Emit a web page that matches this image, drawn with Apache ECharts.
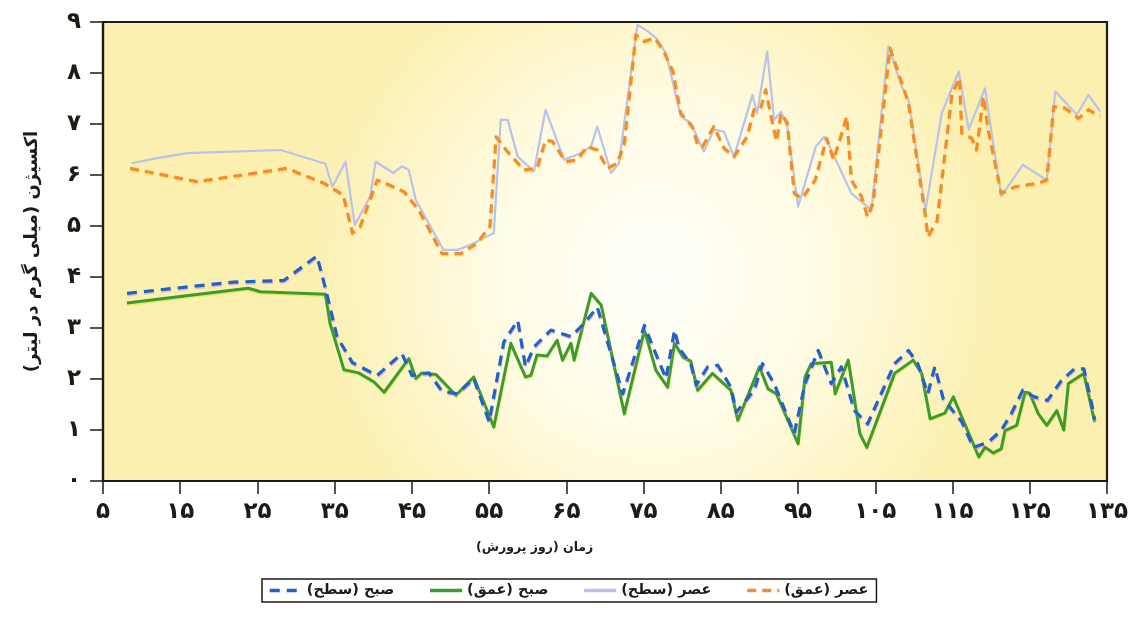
<!DOCTYPE html>
<html>
<head>
<meta charset="utf-8">
<script src="https://cdn.jsdelivr.net/npm/echarts@6/dist/echarts.min.js"></script>
<style>
  html, body { margin: 0; padding: 0; background: #ffffff; }
  #chart { width: 1141px; height: 617px; }
</style>
</head>
<body>
<div id="chart"></div>
<script>
// Dissolved oxygen (mg/L) against day of rearing, morning/afternoon, surface/depth
const xTicks = [5, 15, 25, 35, 45, 55, 65, 75, 85, 95, 105, 115, 125, 135];
const yTicks = [0, 1, 2, 3, 4, 5, 6, 7, 8, 9];

const seriesNames = ['صبح (سطح)', 'صبح (عمق)', 'عصر (سطح)', 'عصر (عمق)'];

// morning, surface
const morningSurface = [
  [8.1, 3.68], [21.9, 3.90], [28.4, 3.93], [32.7, 4.41], [33.8, 3.78], [35.3, 2.83],
  [37.3, 2.32], [40.5, 2.07], [43.7, 2.50], [45.0, 2.07], [47.2, 2.12], [48.9, 1.76],
  [50.9, 1.71], [53.0, 2.01], [55.0, 1.16], [56.9, 2.73], [58.7, 3.15], [59.7, 2.24],
  [60.8, 2.63], [63.0, 2.96], [65.6, 2.83], [67.3, 3.09], [69.0, 3.41], [72.3, 1.71],
  [75.1, 3.05], [76.4, 2.56], [77.9, 2.01], [79.0, 2.96], [79.6, 2.60], [81.1, 2.30],
  [81.8, 1.88], [83.3, 2.24], [84.6, 2.27], [86.3, 1.84], [87.0, 1.35], [89.3, 1.78],
  [90.4, 2.30], [91.9, 1.91], [94.5, 0.93], [95.9, 1.91], [97.6, 2.56], [99.3, 1.91],
  [100.6, 2.24], [102.3, 1.38], [104.0, 1.12], [107.5, 2.30], [109.3, 2.56], [110.5, 2.30],
  [111.8, 1.71], [112.7, 2.24], [113.8, 1.61], [116.2, 1.16], [117.7, 0.66], [119.6, 0.76],
  [121.3, 0.99], [122.6, 1.32], [124.1, 1.78], [125.6, 1.65], [127.3, 1.58], [129.1, 1.97],
  [130.8, 2.20], [132.0, 2.20], [133.0, 1.52], [133.4, 1.20]
];

// morning, depth
const morningDeep = [
  [8.1, 3.49], [23.8, 3.78], [25.4, 3.71], [30.5, 3.68], [33.8, 3.66], [34.4, 3.09],
  [36.2, 2.18], [38.1, 2.12], [40.1, 1.94], [41.4, 1.74], [44.6, 2.40], [45.5, 2.01],
  [46.3, 2.12], [48.1, 2.09], [50.7, 1.68], [53.0, 2.04], [55.6, 1.06], [57.8, 2.70],
  [59.7, 2.04], [60.4, 2.07], [61.2, 2.47], [62.5, 2.45], [63.8, 2.76], [64.5, 2.37],
  [65.6, 2.70], [66.0, 2.37], [68.2, 3.68], [69.5, 3.45], [72.5, 1.32], [75.1, 2.96],
  [76.6, 2.17], [78.1, 1.84], [79.0, 2.70], [80.1, 2.43], [81.1, 2.35], [82.0, 1.78],
  [83.9, 2.11], [86.3, 1.78], [87.2, 1.19], [90.0, 2.24], [91.1, 1.81], [92.2, 1.71],
  [95.0, 0.73], [95.9, 2.04], [96.7, 2.30], [99.3, 2.33], [99.8, 1.71], [101.5, 2.37],
  [103.0, 0.93], [103.9, 0.66], [107.5, 2.11], [109.9, 2.37], [111.0, 2.11], [112.1, 1.22],
  [114.0, 1.33], [115.1, 1.65], [118.4, 0.47], [119.2, 0.66], [120.3, 0.55], [121.3, 0.63],
  [121.8, 0.99], [123.3, 1.09], [124.4, 1.74], [125.0, 1.72], [126.1, 1.32], [127.2, 1.09],
  [128.5, 1.38], [129.4, 1.00], [130.0, 1.91], [132.0, 2.11], [133.4, 1.16]
];

// afternoon, surface
const afternoonSurface = [
  [8.7, 6.23], [12.0, 6.33], [15.9, 6.43], [28.0, 6.49], [33.8, 6.22], [34.7, 5.77],
  [36.4, 6.26], [37.6, 5.02], [39.6, 5.58], [40.3, 6.26], [42.6, 6.04], [43.7, 6.17],
  [44.6, 6.10], [45.5, 5.51], [49.1, 4.53], [50.9, 4.53], [53.0, 4.66], [55.6, 4.86],
  [56.5, 7.08], [57.4, 7.08], [58.7, 6.36], [60.8, 6.07], [62.3, 7.28], [64.7, 6.30],
  [66.9, 6.43], [68.2, 6.56], [69.0, 6.95], [70.8, 6.04], [71.8, 6.23], [74.2, 8.95],
  [75.5, 8.82], [76.6, 8.69], [77.9, 8.39], [79.8, 7.15], [81.1, 7.02], [82.8, 6.46],
  [84.1, 6.89], [85.4, 6.85], [86.7, 6.36], [89.1, 7.57], [89.7, 7.21], [91.0, 8.42],
  [91.9, 7.08], [92.8, 7.24], [93.6, 6.95], [95.0, 5.38], [97.3, 6.56], [98.4, 6.75],
  [99.3, 6.49], [101.9, 5.64], [104.5, 5.31], [106.7, 8.52], [108.4, 7.74], [109.3, 7.47],
  [111.5, 5.31], [113.6, 7.21], [115.8, 8.03], [117.1, 6.89], [119.2, 7.70], [121.3, 5.58],
  [124.1, 6.20], [127.2, 5.90], [128.3, 7.64], [131.1, 7.18], [132.6, 7.57], [134.1, 7.25]
];

// afternoon, depth
const afternoonDeep = [
  [8.5, 6.13], [17.2, 5.87], [28.8, 6.13], [33.6, 5.84], [36.1, 5.61], [37.3, 4.86],
  [38.3, 4.99], [40.5, 5.90], [42.0, 5.81], [44.0, 5.67], [45.9, 5.31], [48.9, 4.46],
  [51.3, 4.46], [53.4, 4.66], [55.1, 4.99], [55.9, 6.75], [57.2, 6.49], [59.5, 6.10],
  [61.2, 6.13], [62.3, 6.69], [63.2, 6.66], [64.9, 6.26], [66.4, 6.30], [67.7, 6.56],
  [69.0, 6.49], [70.3, 6.13], [71.6, 6.23], [72.5, 6.62], [74.0, 8.75], [75.1, 8.62],
  [76.4, 8.69], [77.5, 8.46], [78.8, 8.03], [79.8, 7.21], [81.3, 6.95], [82.0, 6.59],
  [82.6, 6.55], [84.1, 6.95], [85.4, 6.53], [86.7, 6.36], [88.4, 6.75], [89.3, 7.28],
  [90.1, 7.28], [90.8, 7.67], [91.5, 7.15], [92.2, 6.66], [92.8, 7.21], [93.6, 7.02],
  [94.5, 5.64], [95.5, 5.54], [97.2, 5.90], [98.7, 6.72], [99.6, 6.30], [100.6, 6.79],
  [101.3, 7.15], [101.9, 5.90], [103.2, 5.58], [104.0, 5.18], [104.7, 5.45], [106.9, 8.49],
  [109.3, 7.41], [111.5, 5.18], [111.8, 4.79], [113.0, 5.10], [114.9, 7.57], [115.9, 7.90],
  [116.2, 6.82], [117.5, 6.72], [118.1, 6.49], [119.0, 7.54], [119.6, 6.89], [121.3, 5.64],
  [123.1, 5.77], [126.1, 5.84], [127.2, 5.90], [128.1, 7.34], [129.6, 7.31], [131.3, 7.11],
  [132.6, 7.28], [134.1, 7.15]
];

const FA_DIGITS = '۰۱۲۳۴۵۶۷۸۹';
const toPersian = v => String(v).replace(/\d/g, d => FA_DIGITS[+d]);
const FONT = "'DejaVu Sans', 'Noto Sans', sans-serif";
const INK = '#1e1a14';

const chart = echarts.init(document.getElementById('chart'), null, { renderer: 'canvas' });

function lineSeries(name, data, color, width, type, z, halo) {
  const lineStyle = { color: color, width: width, type: type, cap: 'butt', join: 'round' };
  if (halo) {
    lineStyle.shadowColor = halo;
    lineStyle.shadowBlur = 0;
    lineStyle.shadowOffsetX = 0.5;
    lineStyle.shadowOffsetY = 1.5;
  }
  return {
    name: name,
    type: 'line',
    data: data,
    symbol: 'none',
    smooth: false,
    z: z,
    lineStyle: lineStyle,
    itemStyle: { color: color }
  };
}

chart.setOption({
  animation: false,
  backgroundColor: '#ffffff',
  grid: {
    left: 103, right: 34, top: 22, bottom: 136,
    show: true,
    borderColor: INK,
    borderWidth: 2.2,
    backgroundColor: {
      type: 'radial', x: 0.55, y: 0.55, r: 0.75,
      colorStops: [
        { offset: 0, color: '#fffffa' },
        { offset: 0.45, color: '#fffce6' },
        { offset: 1, color: '#fbf0b0' }
      ]
    }
  },
  xAxis: {
    type: 'value',
    min: 5, max: 135, interval: 5,
    axisLine: { show: true, onZero: false, lineStyle: { color: INK, width: 2.2 } },
    axisTick: { show: true, length: 13, customValues: xTicks, lineStyle: { color: INK, width: 1.5 } },
    splitLine: { show: false },
    axisLabel: {
      customValues: xTicks,
      margin: 20,
      color: INK,
      fontFamily: FONT,
      fontWeight: 'bold',
      fontSize: 23,
      formatter: v => (xTicks.indexOf(v) >= 0 ? toPersian(v) : '')
    }
  },
  yAxis: {
    type: 'value',
    min: 0, max: 9, interval: 1,
    name: 'اکسیژن (میلی گرم در لیتر)',
    nameLocation: 'middle',
    nameGap: 62,
    nameRotate: 90,
    nameTextStyle: { color: INK, fontFamily: FONT, fontWeight: 'bold', fontSize: 18 },
    axisLine: { show: true, lineStyle: { color: INK, width: 2.2 } },
    axisTick: { show: true, length: 13, lineStyle: { color: INK, width: 1.5 } },
    splitLine: { show: false },
    axisLabel: {
      margin: 22,
      color: INK,
      fontFamily: FONT,
      fontWeight: 'bold',
      fontSize: 23,
      formatter: v => toPersian(v)
    }
  },
  legend: {
    data: seriesNames,
    left: 262, top: 579,
    orient: 'horizontal',
    itemWidth: 32, itemHeight: 4, itemGap: 34,
    itemStyle: { opacity: 0, borderWidth: 0 },
    lineStyle: { width: 3.5 },
    padding: [4, 8, 4, 6],
    borderColor: INK, borderWidth: 1.5,
    backgroundColor: '#ffffff',
    textStyle: { color: INK, fontFamily: FONT, fontWeight: 'bold', fontSize: 14.5 }
  },
  graphic: [{
    type: 'text',
    left: 476, top: 541,
    style: {
      text: 'زمان (روز پرورش)',
      fill: INK,
      font: "bold 12.5px 'DejaVu Sans', sans-serif"
    }
  }],
  series: [
    lineSeries(seriesNames[2], afternoonSurface, '#b9c3ea', 2.2, 'solid', 2),
    lineSeries(seriesNames[3], afternoonDeep, '#f58a2e', 3.2, [9, 6], 3, 'rgba(250,215,60,0.55)'),
    lineSeries(seriesNames[1], morningDeep, '#3c9a2e', 3, 'solid', 4, 'rgba(225,230,60,0.6)'),
    lineSeries(seriesNames[0], morningSurface, '#1c64c8', 3.2, [10, 7], 5, 'rgba(235,130,205,0.55)')
  ]
});
</script>
</body>
</html>
